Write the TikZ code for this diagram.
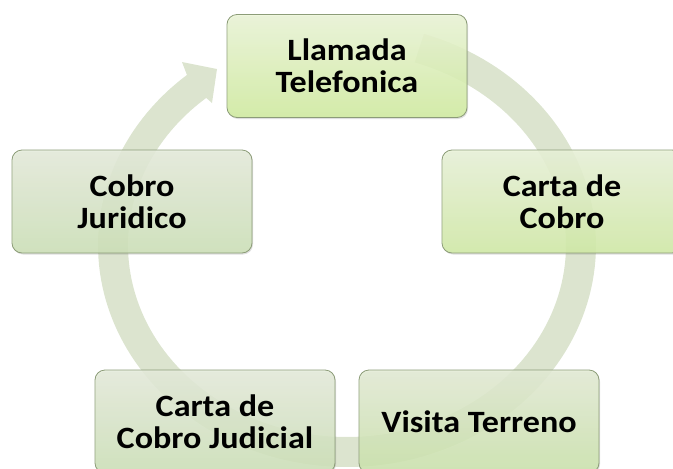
\documentclass[tikz,border=0pt]{standalone}
\usepackage{fontspec}
\setmainfont{Carlito}[FakeStretch=1.1]
\usetikzlibrary{shadows}
\definecolor{bandcol}{RGB}{220,228,207}
\definecolor{bordercol}{RGB}{140,156,120}
\definecolor{limeT}{RGB}{236,246,216}
\definecolor{limeB}{RGB}{210,238,160}
\definecolor{limeTb}{RGB}{234,243,218}
\definecolor{limeBb}{RGB}{210,236,166}
\definecolor{grayT}{RGB}{230,236,220}
\definecolor{grayB}{RGB}{206,226,184}
\definecolor{grayTb}{RGB}{228,236,214}
\definecolor{grayBb}{RGB}{204,228,172}
\begin{document}
\begin{tikzpicture}[x=1pt,y=-1pt,
  stepbox/.style 2 args={rounded corners=10pt, minimum width=240pt, minimum height=103pt,
    align=center, inner sep=0pt, font=\bfseries\fontsize{31}{32}\selectfont,
    top color=#1, bottom color=#2, draw=bordercol, line width=0.8pt,
    fill opacity=0.86, draw opacity=1, text opacity=1,
    drop shadow={opacity=0.25, shadow xshift=1pt, shadow yshift=-1.5pt}},
  bandfill/.style={fill=bandcol}]
\useasboundingbox (0,0) rectangle (673,469);
\clip (0,0) rectangle (673,469);
% continuous cycle arrow (ellipse centre 347,245)
\fill[bandfill]
  plot[domain=-72:230, samples=160] ({347+249*cos(\x)},{245+222*sin(\x)})
  -- (182,62) -- (217,69) -- (212,103)
  -- plot[domain=230:-72, samples=160] ({347+219*cos(\x)},{245+192*sin(\x)})
  -- cycle;
% boxes
\node[stepbox={limeT}{limeB}] (n1) at (347,66) {Llamada\\Telefonica};
\node[stepbox={limeTb}{limeBb}] (n2) at (562,201.5) {Carta de\\Cobro};
\node[stepbox={grayTb}{grayBb}] (n3) at (479,421.5) {Visita Terreno};
\node[stepbox={grayT}{grayB}] (n4) at (215,421.5) {Carta de\\Cobro Judicial};
\node[stepbox={grayT}{grayB}] (n5) at (132,201.5) {Cobro\\Juridico};
\end{tikzpicture}
\end{document}
